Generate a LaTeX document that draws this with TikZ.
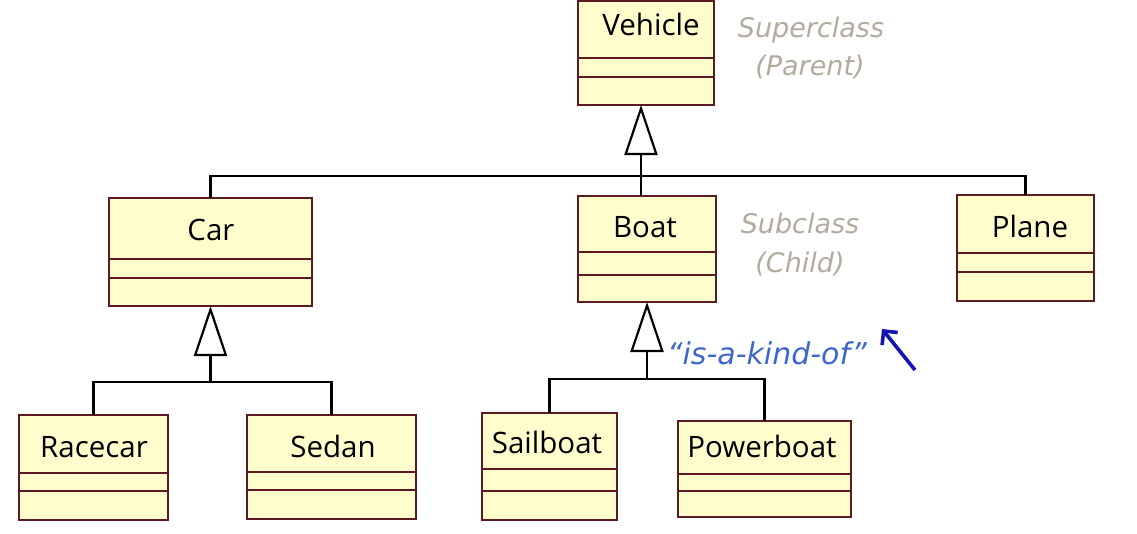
\documentclass[tikz,border=0pt]{standalone}
\usepackage{fontspec}
\setmainfont{Open Sans}
\newfontfamily\notefont{DejaVu Sans}
\usetikzlibrary{arrows.meta}
\definecolor{clsfill}{HTML}{FFFDCC}
\definecolor{clsborder}{HTML}{5E1A22}
\definecolor{notegray}{HTML}{B3AB9E}
\definecolor{noteblue}{HTML}{3E66CC}
\definecolor{arrowblue}{HTML}{1414B4}
\tikzset{
  cls/.style={draw=clsborder, fill=clsfill, line width=2pt, inner sep=0pt, outer sep=0pt, rectangle},
  divider/.style={draw=clsborder, line width=2pt},
  clsname/.style={anchor=base, font=\fontsize{29.5}{34}\selectfont, text=black, inner sep=0pt},
  note/.style={anchor=base, font=\notefont\fontsize{27}{32}\selectfont\itshape, text=notegray, inner sep=0pt},
  link/.style={draw=black, line width=2.2pt},
  gen/.style={link, -{Triangle[open, length=50pt, width=33pt]}},
  hint/.style={draw=arrowblue, line width=3.6pt, -{Straight Barb[length=10pt, width=20pt]}},
}
\newcommand\umlclass[7]{%
  \node[cls, minimum width={(#4-#2)*1pt}, minimum height={(#5-#3)*1pt}] (#1) at ({(#2+#4)/2},{(#3+#5)/2}) {};
  \coordinate (#1-d1) at (0,#6);
  \coordinate (#1-d2) at (0,#7);
  \draw[divider] (#1.west |- #1-d1) -- (#1.east |- #1-d1) (#1.west |- #1-d2) -- (#1.east |- #1-d2);
}
\begin{document}
\begin{tikzpicture}[x=1pt,y=-1pt]
\fill[white] (0,0) rectangle (1137,533);
\useasboundingbox (0,0) rectangle (1137,533);
% classes
\umlclass{vehicle}{578}{1}{714}{105}{58}{77}
\umlclass{car}{109}{198}{312}{306}{259}{278}
\umlclass{boat}{578}{196}{716}{302}{252}{275}
\umlclass{plane}{957}{195}{1094}{301}{253}{272}
\umlclass{racecar}{19}{415}{168}{520}{473}{491}
\umlclass{sedan}{247}{415}{416}{519}{472}{490}
\umlclass{sailboat}{482}{413}{617}{520}{469}{491}
\umlclass{powerboat}{678}{421}{851}{517}{474}{491}
% class names
\node[clsname] (vehicle-n) at (651,35) {Vehicle};
\node[clsname] (car-n) at (211,240) {Car};
\node[clsname] (boat-n) at (645,237) {Boat};
\node[clsname] (plane-n) at (1030,237) {Plane};
\node[clsname] (racecar-n) at (94,457) {Racecar};
\node[clsname] (sedan-n) at (333,457) {Sedan};
\node[clsname] (sailboat-n) at (547,453) {Sailboat};
\node[clsname] (powerboat-n) at (762,457) {Powerboat};
% generalization from level 1
\coordinate (j1) at (641,176);
\draw[link] (car.north) |- (j1) -| (plane.north);
\draw[link] (boat.north -| j1) -- (j1);
\draw[gen] (j1) -- (vehicle.south -| j1);
% Car children
\coordinate (lvlc) at (0,382);
\coordinate (j3) at (car.south |- lvlc);
\draw[link] (racecar.north) |- (j3) -| (sedan.north);
\draw[gen] (j3) -- (car.south);
% Boat children
\coordinate (lvlb) at (0,379);
\coordinate (j2) at (boat.south |- lvlb);
\draw[link] (sailboat.north) |- (j2) -| (powerboat.north);
\draw[gen] (j2) -- (boat.south);
% notes
\node[note] (super) at (811,37) {Superclass};
\node[note] (parent) at (810,75) {(Parent)};
\node[note] (sub) at (800,233) {Subclass};
\node[note] (child) at (800,272) {(Child)};
\node[note, text=noteblue, font=\notefont\fontsize{30}{34}\selectfont\itshape] (kind) at (767,364) {“is-a-kind-of”};
\coordinate (arrTail) at (915,370);
\coordinate (arrHead) at (882,329);
\draw[hint] (arrTail) -- (arrHead);
\end{tikzpicture}
\end{document}
